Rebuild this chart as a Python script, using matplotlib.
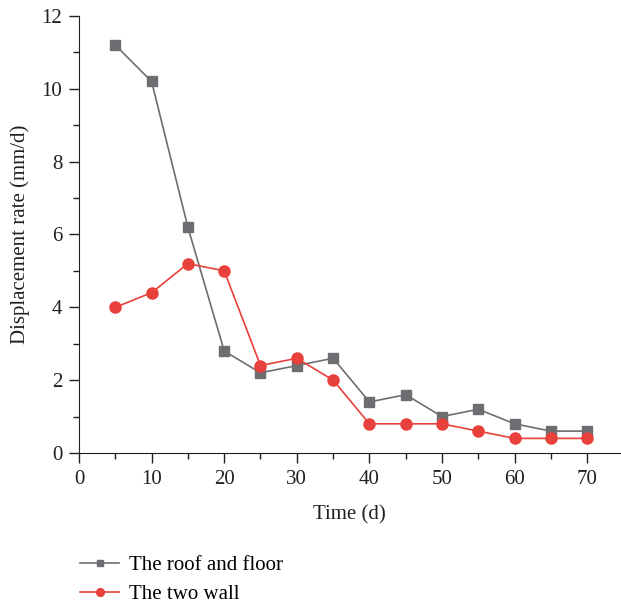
import matplotlib
matplotlib.use("Agg")
import matplotlib.pyplot as plt
from matplotlib.ticker import MultipleLocator

# Data
time_d = [5, 10, 15, 20, 25, 30, 35, 40, 45, 50, 55, 60, 65, 70]
roof_floor = [11.2, 10.2, 6.2, 2.8, 2.2, 2.4, 2.6, 1.4, 1.6, 1.0, 1.2, 0.8, 0.6, 0.6]
two_wall = [4.0, 4.4, 5.2, 5.0, 2.4, 2.6, 2.0, 0.8, 0.8, 0.8, 0.6, 0.4, 0.4, 0.4]

plt.rcParams["font.family"] = ["Liberation Serif", "DejaVu Serif"]

fig = plt.figure(figsize=(6.21, 6.08), dpi=100)
ax = fig.add_axes([0.1272, 0.255, 0.871, 0.7188])

ax.plot(time_d, roof_floor, color="#6d6e71", lw=1.2, marker="s", ms=6.5,
        label="The roof and floor")
ax.plot(time_d, two_wall, color="#e8403b", lw=1.2, marker="o", ms=8,
        label="The two wall")

ax.set_xlim(0, 74.5)
ax.set_ylim(0, 12)
ax.xaxis.set_major_locator(MultipleLocator(10))
ax.xaxis.set_minor_locator(MultipleLocator(5))
ax.yaxis.set_major_locator(MultipleLocator(2))
ax.yaxis.set_minor_locator(MultipleLocator(1))
ax.tick_params(which="both", direction="out", labelsize=15, color="#231f20",
               labelcolor="#231f20", pad=5)
ax.tick_params(which="major", length=7, width=1)
ax.tick_params(which="minor", length=4, width=1)
for s in ["top", "right"]:
    ax.spines[s].set_visible(False)
for s in ["left", "bottom"]:
    ax.spines[s].set_color("#231f20")

ax.set_xlabel("Time (d)", fontsize=15, color="#231f20", labelpad=12)
ax.set_ylabel("Displacement rate (mm/d)", fontsize=15, color="#231f20", labelpad=8)

fig.legend(loc="upper left", bbox_to_anchor=(0.115, 0.100), frameon=False,
           fontsize=15, handlelength=1.9, handletextpad=0.45,
           labelspacing=0.45, borderaxespad=0.0, markerscale=0.7)

fig.savefig("out.png", dpi=100)
plt.close(fig)
